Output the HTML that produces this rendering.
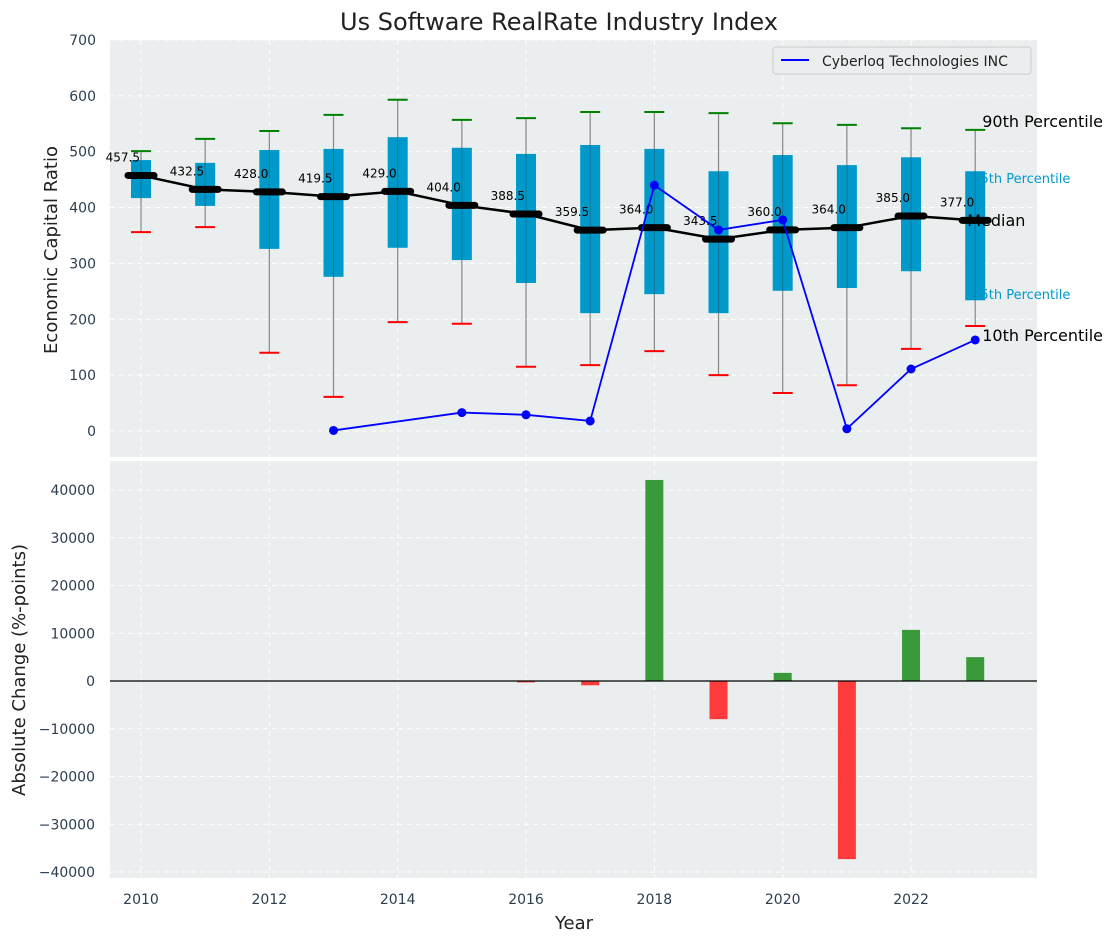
<!DOCTYPE html>
<html><head><meta charset="utf-8"><style>
body{margin:0;background:#fff;font-family:"Liberation Sans","DejaVu Sans",sans-serif}
svg text{font-family:"DejaVu Sans","Liberation Sans",sans-serif}
</style></head><body>
<svg id="c" width="1117" height="942" xmlns="http://www.w3.org/2000/svg"></svg>
<script>
const years=[2010,2011,2012,2013,2014,2015,2016,2017,2018,2019,2020,2021,2022,2023];
const p10=[356,365,140,61,195,192,115,118,143,100,68,82,147,188];
const p25=[417,403,326,276,328,306,265,211,245,211,251,256,286,234];
const med=[457.5,432.5,428.0,419.5,429.0,404.0,388.5,359.5,364.0,343.5,360.0,364.0,385.0,377.0];
const p75=[485,480,503,505,526,507,496,512,505,465,494,476,490,465];
const p90=[501,523,537,566,593,557,560,571,571,569,551,548,542,539];
const coYears=[2013,2015,2016,2017,2018,2019,2020,2021,2022,2023];
const coVals=[1,33,29,18,440,360,378,4,111,163];
const chgYears=[2016,2017,2018,2019,2020,2021,2022,2023];
const chgVals=[-300,-900,42100,-8000,1700,-37300,10700,5000];
const topTicks=[0,100,200,300,400,500,600,700];
const botTicks=[-40000,-30000,-20000,-10000,0,10000,20000,30000,40000];
const xTicks=[2010,2012,2014,2016,2018,2020,2022];

const svg=document.getElementById('c');
const NS='http://www.w3.org/2000/svg';
function el(t,a,txt){const e=document.createElementNS(NS,t);for(const k in a)e.setAttribute(k,a[k]);if(txt!==undefined)e.textContent=txt;svg.appendChild(e);return e;}
const X=y=>141+(y-2010)*64.17;
const Y1=v=>431-v*0.5586;
const Y2=v=>681-v*0.004775;
const L=110,R=1037;
const fmt=v=>String(v).replace('-','\u2212');

let e;
e=el('rect',{x:L,y:40,width:R-L,height:417,fill:'#eaeeee'});

e=el('rect',{x:L,y:461,width:R-L,height:417,fill:'#eaeeee'});


topTicks.forEach(t=>{el('line',{x1:L,x2:R,y1:Y1(t),y2:Y1(t),stroke:'#fff','stroke-dasharray':'5,4','stroke-width':1});
 e=el('text',{x:96,y:Y1(t)+5,'text-anchor':'end','font-size':14,fill:'#2c3e50'},fmt(t));
 });
botTicks.forEach(t=>{el('line',{x1:L,x2:R,y1:Y2(t),y2:Y2(t),stroke:'#fff','stroke-dasharray':'5,4','stroke-width':1});
 e=el('text',{x:95,y:Y2(t)+5,'text-anchor':'end','font-size':14,fill:'#2c3e50'},fmt(t));
 });
xTicks.forEach(t=>{el('line',{x1:X(t),x2:X(t),y1:40,y2:457,stroke:'#fff','stroke-dasharray':'5,4'});
 el('line',{x1:X(t),x2:X(t),y1:461,y2:878,stroke:'#fff','stroke-dasharray':'5,4'});
 e=el('text',{x:X(t),y:904,'text-anchor':'middle','font-size':14,fill:'#2c3e50'},t);
 });

const lx=X(2023);
e=el('text',{x:lx-3,y:183,'font-size':13,fill:'#0099cc'},'75th Percentile');
e=el('text',{x:lx-3,y:299,'font-size':13,fill:'#0099cc'},'25th Percentile');

years.forEach((y,i)=>{const x=X(y);
 e=el('line',{x1:x,x2:x,y1:Y1(p90[i]),y2:Y1(p10[i]),stroke:'#888','stroke-width':1.2});
 
 e=el('rect',{x:x-10,y:Y1(p75[i]),width:20,height:Y1(p25[i])-Y1(p75[i]),fill:'#0099c9'});
 
 el('line',{x1:x,x2:x,y1:Y1(p75[i]),y2:Y1(p25[i]),stroke:'#1f5f7a','stroke-width':1,opacity:0.6});
 e=el('line',{x1:x-10,x2:x+10,y1:Y1(p90[i]),y2:Y1(p90[i]),stroke:'green','stroke-width':2});
 
 e=el('line',{x1:x-10,x2:x+10,y1:Y1(p10[i]),y2:Y1(p10[i]),stroke:'red','stroke-width':2});
 
});
e=el('polyline',{points:years.map((y,i)=>X(y)+','+Y1(med[i])).join(' '),fill:'none',stroke:'#000','stroke-width':2.5});

years.forEach((y,i)=>{const x=X(y);
 e=el('line',{x1:x-13,x2:x+13,y1:Y1(med[i]),y2:Y1(med[i]),stroke:'#000','stroke-width':7,'stroke-linecap':'round'});
 
 e=el('text',{x:x-1,y:Y1(med[i])-14,'text-anchor':'end','font-size':12,fill:'#000'},med[i].toFixed(1));
 
});
e=el('polyline',{points:coYears.map((y,i)=>X(y)+','+Y1(coVals[i])).join(' '),fill:'none',stroke:'#0000ff','stroke-width':1.8});

coYears.forEach((y,i)=>{e=el('circle',{cx:X(y),cy:Y1(coVals[i]),r:4.5,fill:'#0000ff'});
 });

e=el('text',{x:lx+7,y:127,'font-size':16,fill:'#000'},'90th Percentile');
e=el('text',{x:lx-8,y:226,'font-size':16,fill:'#000'},'Median');
e=el('text',{x:lx+7,y:341,'font-size':16,fill:'#000'},'10th Percentile');

e=el('rect',{x:773,y:47,width:258,height:27,rx:3,fill:'#eaeeee',stroke:'#ccc'});

el('line',{x1:781,x2:809,y1:60,y2:60,stroke:'#0000ff','stroke-width':2});
e=el('text',{x:822,y:66,'font-size':14,fill:'#222'},'Cyberloq Technologies INC');


chgYears.forEach((y,i)=>{const v=chgVals[i];const y0=Y2(0),y1=Y2(v);
 e=el('rect',{x:X(y)-9,y:Math.min(y0,y1),width:18,height:Math.max(1,Math.abs(y1-y0)),fill:v>=0?'#3a9a3a':'#ff3b3b'});
 });
e=el('line',{x1:L,x2:R,y1:Y2(0),y2:Y2(0),stroke:'#000','stroke-width':1.2});


e=el('text',{x:559,y:30,'text-anchor':'middle','font-size':24,fill:'#222'},'Us Software RealRate Industry Index');

e=el('text',{x:0,y:0,'text-anchor':'middle','font-size':18,fill:'#222',transform:'translate(57,250) rotate(-90)'},'Economic Capital Ratio');

e=el('text',{x:0,y:0,'text-anchor':'middle','font-size':18,fill:'#222',transform:'translate(25,670) rotate(-90)'},'Absolute Change (%-points)');

e=el('text',{x:574,y:929,'text-anchor':'middle','font-size':18,fill:'#222'},'Year');

</script>
</body></html>
